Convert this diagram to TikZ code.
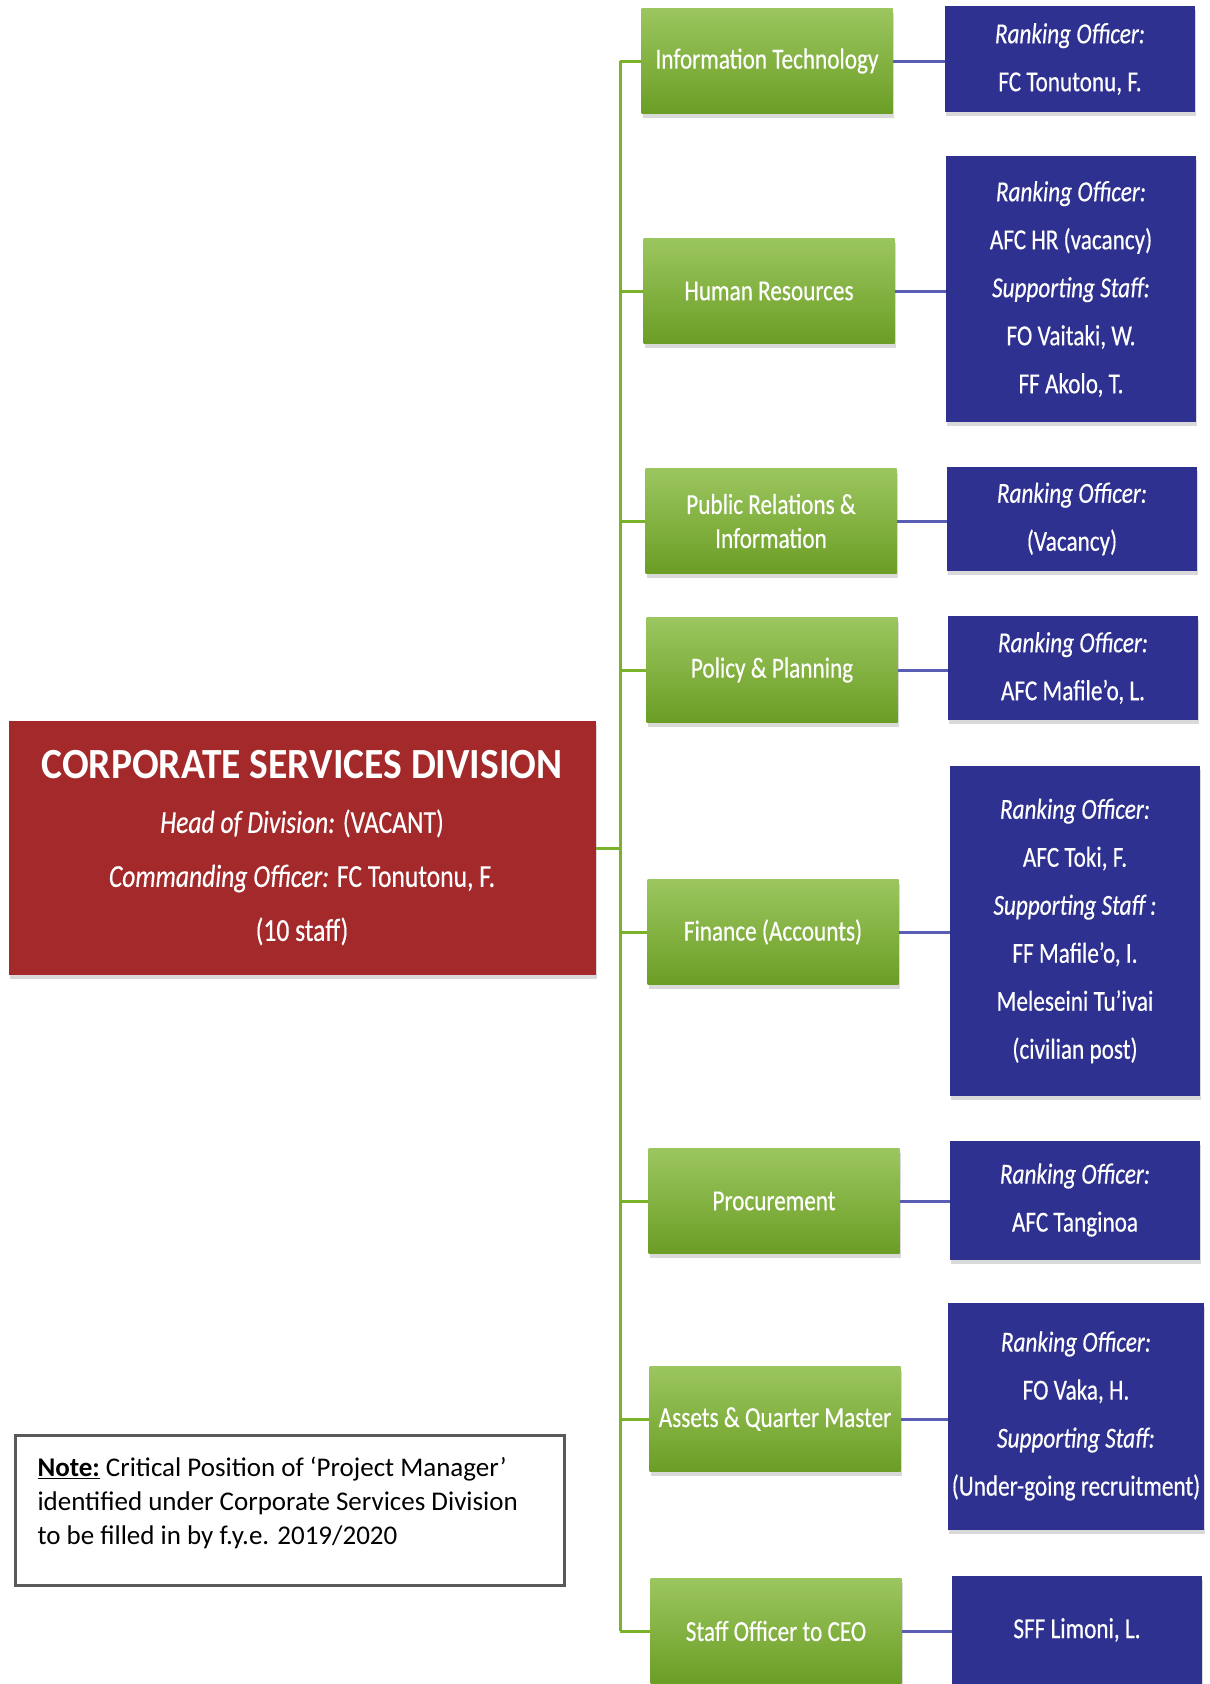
\documentclass[tikz,border=0pt]{standalone}
\usepackage{fontspec}
\setmainfont{Carlito}[FakeStretch=0.8,FakeBold=0.4]
\newfontfamily\notefont{Carlito}
\newfontfamily\titlefont{Carlito}[FakeStretch=0.92]
\usetikzlibrary{shadows}

\definecolor{csdred}{HTML}{A3292B}
\definecolor{unitgreen}{HTML}{7AB32A}
\definecolor{rankblue}{HTML}{2F3190}
\definecolor{linkblue}{HTML}{5A5DB4}

\tikzset{
  boxshadow/.style={drop shadow={shadow xshift=1pt,shadow yshift=-4pt,opacity=0.3,fill=gray}},
  head/.style={fill=csdred,text=white,align=center,minimum width=587pt,minimum height=254pt,
    font=\fontsize{32}{54}\selectfont,boxshadow},
  unit/.style={top color=unitgreen!75!white,bottom color=unitgreen!88!black,text=white,
    align=center,minimum width=251pt,minimum height=105pt,font=\fontsize{29}{34}\selectfont,boxshadow},
  rank/.style={fill=rankblue,text=white,align=center,minimum width=250pt,
    font=\fontsize{29}{48}\selectfont,boxshadow},
  trunk/.style={draw=unitgreen,line width=3pt},
  link/.style={draw=linkblue,line width=3pt},
  notebox/.style={draw=gray!70!black,line width=3pt,fill=white,inner xsep=22pt,inner ysep=22pt,
    anchor=north west,font=\notefont\fontsize{27}{34}\selectfont}
}

\begin{document}
\begin{tikzpicture}[x=1pt,y=-1pt]
\useasboundingbox (0,0) rectangle (1210,1684);
\clip (0,0) rectangle (1210,1684);

\node[head] (csd) at (302,848) {{\titlefont\fontsize{43}{54}\selectfont\bfseries CORPORATE SERVICES DIVISION}\\
  \textit{Head of Division:} (VACANT)\\
  \textit{Commanding Officer:} FC Tonutonu, F.\\
  (10 staff)};

\node[unit] (it) at (767,61) {Information Technology};
\node[unit] (hr) at (769,291) {Human Resources};
\node[unit] (pr) at (771,521) {Public Relations \&\\ Information};
\node[unit] (pp) at (772,670) {Policy \& Planning};
\node[unit] (fin) at (773,932) {Finance (Accounts)};
\node[unit] (proc) at (774,1201) {Procurement};
\node[unit] (aqm) at (775,1419) {Assets \& Quarter Master};
\node[unit] (so) at (776,1631) {Staff Officer to CEO};

\node[rank,minimum height=106pt] (it-ro) at (1070,59) {\textit{Ranking Officer:}\\ FC Tonutonu, F.};
\node[rank,minimum height=266pt] (hr-ro) at (1071,289) {\textit{Ranking Officer:}\\ AFC HR (vacancy)\\
  \textit{Supporting Staff:}\\ FO Vaitaki, W.\\ FF Akolo, T.};
\node[rank,minimum height=104pt] (pr-ro) at (1072,519) {\textit{Ranking Officer:}\\ (Vacancy)};
\node[rank,minimum height=104pt] (pp-ro) at (1073,668) {\textit{Ranking Officer:}\\ AFC Mafile'o, L.};
\node[rank,minimum height=330pt] (fin-ro) at (1075,931) {\textit{Ranking Officer:}\\ AFC Toki, F.\\
  \textit{Supporting Staff :}\\ FF Mafile'o, I.\\ Meleseini Tu'ivai\\ (civilian post)};
\node[rank,minimum height=119pt] (proc-ro) at (1075,1200) {\textit{Ranking Officer:}\\ AFC Tanginoa};
\node[rank,minimum height=227pt] (aqm-ro) at (1076,1416) {\textit{Ranking Officer:}\\ FO Vaka, H.\\
  \textit{Supporting Staff:}\\ (Under-going recruitment)};
\node[rank,minimum height=108pt] (so-ro) at (1077,1630) {SFF Limoni, L.};

\coordinate (top) at (620,61);
\coordinate (bot) at (620,1631);
\draw[trunk] (top) -- (bot);
\draw[trunk] (csd.east) -- (csd.east -| top);
\foreach \u in {it,hr,pr,pp,fin,proc,aqm,so}{
  \draw[trunk] (\u.west) -- (\u.west -| top);
  \draw[link] (\u.east) -- (\u-ro.west |- \u.east);
}

\node[notebox] (note) at (14,1434) {\parbox[c][106pt][t]{505pt}{\underline{\textbf{Note:}} Critical Position of ‘Project Manager’\\
  identified under Corporate Services Division\\ to be filled in by f.y.e. 2019/2020}};
\end{tikzpicture}
\end{document}
